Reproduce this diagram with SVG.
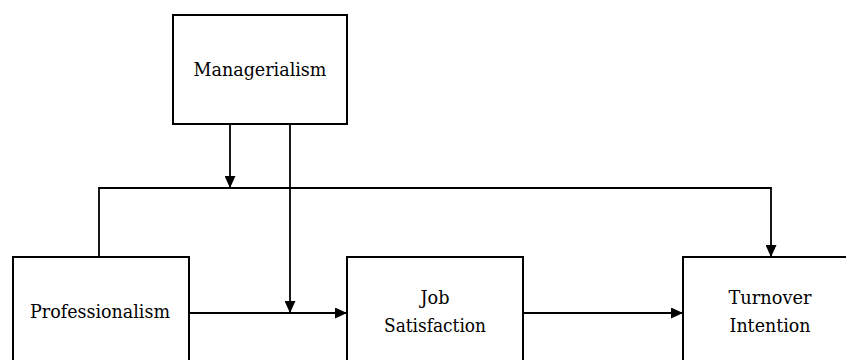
<svg xmlns="http://www.w3.org/2000/svg" width="846" height="360" viewBox="0 0 846 360">
<style>
.box{fill:#fff;stroke:#000;stroke-width:2}
.con{fill:none;stroke:#000;stroke-width:1.8}
</style>
<defs>
<marker id="ah" viewBox="0 0 12 11" refX="12" refY="5.5" markerWidth="12" markerHeight="11" markerUnits="userSpaceOnUse" orient="auto">
<path d="M0,0 L12,5.5 L0,11 Z" fill="#000"/>
</marker>
</defs>
<rect width="846" height="360" fill="#fff"/>
<g id="connectors">
<path class="con" d="M230,124 V188" marker-end="url(#ah)"/>
<path class="con" d="M99,257 V188 H771 V257" marker-end="url(#ah)"/>
<path class="con" d="M290,124 V313" marker-end="url(#ah)"/>
<path class="con" d="M189,313 H347" marker-end="url(#ah)"/>
<path class="con" d="M523,313 H683" marker-end="url(#ah)"/>
</g>
<g font-family="'DejaVu Serif', serif" font-size="19" text-anchor="middle" fill="#000">
<g id="managerialism">
<rect class="box" x="173" y="15" width="174" height="109"/>
<text x="260" y="76" textLength="133" lengthAdjust="spacingAndGlyphs">Managerialism</text>
</g>
<g id="professionalism">
<rect class="box" x="13" y="257" width="176" height="110"/>
<text x="100" y="318" textLength="140" lengthAdjust="spacingAndGlyphs">Professionalism</text>
</g>
<g id="job-satisfaction">
<rect class="box" x="347" y="257" width="176" height="110"/>
<text x="435" y="304" textLength="29" lengthAdjust="spacingAndGlyphs">Job</text>
<text x="435" y="332" textLength="102" lengthAdjust="spacingAndGlyphs">Satisfaction</text>
</g>
<g id="turnover-intention">
<rect class="box" x="683" y="257" width="176" height="110"/>
<text x="770" y="304" textLength="83" lengthAdjust="spacingAndGlyphs">Turnover</text>
<text x="770" y="332" textLength="81" lengthAdjust="spacingAndGlyphs">Intention</text>
</g>
</g>
</svg>
